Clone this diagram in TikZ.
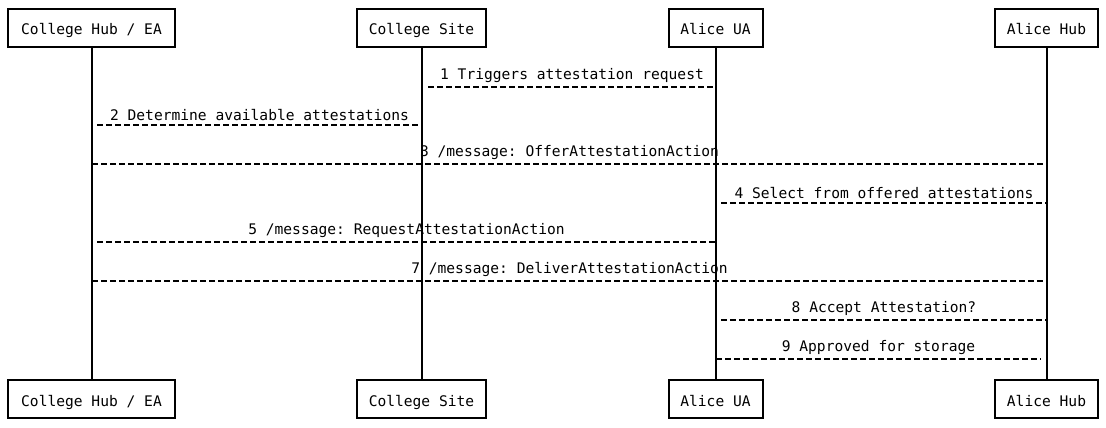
\documentclass[tikz,border=0pt]{standalone}
\usepackage{fontspec}
\setmonofont{DejaVu Sans Mono}
\begin{document}
\begin{tikzpicture}[x=1pt,y=-1pt,
  actor/.style={draw,line width=2pt,minimum height=38pt,inner sep=0pt,text height=16pt,text depth=2pt,font=\ttfamily\fontsize{14.6}{17}\selectfont},
  life/.style={line width=2pt},
  msg/.style={line width=2pt,dash pattern=on 6pt off 3pt},
  lbl/.style={font=\ttfamily\fontsize{14.6}{17}\selectfont,inner sep=0pt}]
\useasboundingbox (0,0) rectangle (1106,428);
% top actors
\node[actor,minimum width=167pt] (hubT) at (91.5,28) {College Hub / EA};
\node[actor,minimum width=129pt] (siteT) at (421.5,28) {College Site};
\node[actor,minimum width=94pt] (uaT) at (715.5,28) {Alice UA};
\node[actor,minimum width=103pt] (ahT) at (1046.5,28) {Alice Hub};
% bottom actors
\node[actor,minimum width=167pt] (hubB) at (91.5,399) {College Hub / EA};
\node[actor,minimum width=129pt] (siteB) at (421.5,399) {College Site};
\node[actor,minimum width=94pt] (uaB) at (715.5,399) {Alice UA};
\node[actor,minimum width=103pt] (ahB) at (1046.5,399) {Alice Hub};
% lifelines
\draw[life] ([xshift=0.5pt]hubT.south) -- ([xshift=0.5pt]hubB.north);
\draw[life] ([xshift=0.5pt]siteT.south) -- ([xshift=0.5pt]siteB.north);
\draw[life] ([xshift=0.5pt]uaT.south) -- ([xshift=0.5pt]uaB.north);
\draw[life] ([xshift=0.5pt]ahT.south) -- ([xshift=0.5pt]ahB.north);
% message end points
\coordinate (m1a) at (428,87);   \coordinate (m1b) at (716,87);
\coordinate (m2a) at (97,125);   \coordinate (m2b) at (422,125);
\coordinate (m3a) at (92,164);   \coordinate (m3b) at (1047,164);
\coordinate (m4a) at (721,203);  \coordinate (m4b) at (1047,203);
\coordinate (m5a) at (97,242);   \coordinate (m5b) at (716,242);
\coordinate (m7a) at (92,281);   \coordinate (m7b) at (1047,281);
\coordinate (m8a) at (721,320);  \coordinate (m8b) at (1047,320);
\coordinate (m9a) at (716,359);  \coordinate (m9b) at (1041,359);
% messages
\draw[msg] (m1a) -- node[lbl,above=3pt] {1 Triggers attestation request} (m1b);
\draw[msg] (m2a) -- node[lbl,above=3pt] {2 Determine available attestations} (m2b);
\draw[msg] (m3a) -- node[lbl,above=3pt] {3 /message: OfferAttestationAction} (m3b);
\draw[msg] (m4a) -- node[lbl,above=3pt] {4 Select from offered attestations} (m4b);
\draw[msg] (m5a) -- node[lbl,above=3pt] {5 /message: RequestAttestationAction} (m5b);
\draw[msg] (m7a) -- node[lbl,above=3pt] {7 /message: DeliverAttestationAction} (m7b);
\draw[msg] (m8a) -- node[lbl,above=3pt] {8 Accept Attestation?} (m8b);
\draw[msg] (m9a) -- node[lbl,above=3pt] {9 Approved for storage} (m9b);
\end{tikzpicture}
\end{document}
